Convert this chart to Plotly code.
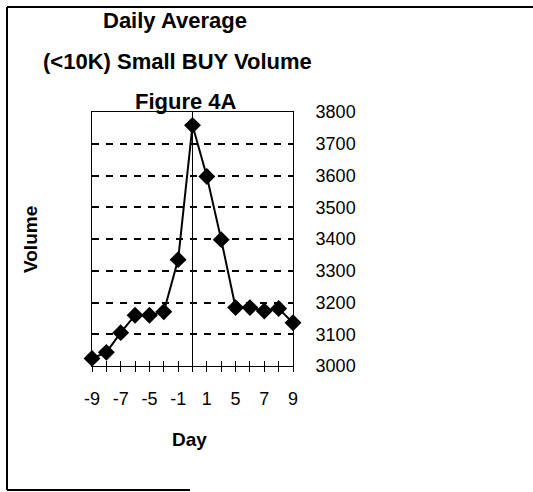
import plotly.graph_objects as go

# ---- data ----
days = ["-9", "-8", "-7", "-6", "-5", "-3", "-1", "0", "1", "3", "5", "6", "7", "8", "9"]
volume = [3024, 3043, 3105, 3160, 3160, 3171, 3335, 3758, 3597, 3398, 3184, 3184, 3173, 3181, 3136]
shown_labels = ["-9", "-7", "-5", "-1", "1", "5", "7", "9"]
y_ticks = [3000, 3100, 3200, 3300, 3400, 3500, 3600, 3700, 3800]

W, H = 533, 492
L, R, T, B = 92, 240, 112, 126
PW, PH = W - L - R, H - T - B


def px(x):
    return (x - L) / PW


def py(y):
    return (H - B - y) / PH


FONT = "Liberation Sans, Arial, sans-serif"

fig = go.Figure()
fig.add_trace(go.Scatter(
    x=days, y=volume, mode="lines+markers",
    line=dict(color="black", width=2),
    marker=dict(symbol="diamond", size=13, color="black"),
    cliponaxis=False, showlegend=False,
))

ticktext = [d if d in shown_labels else "" for d in days]

fig.update_layout(
    width=W, height=H,
    margin=dict(l=L, r=R, t=T, b=B, pad=0),
    paper_bgcolor="white", plot_bgcolor="white",
    font=dict(family=FONT, color="black", size=18),
    xaxis=dict(
        type="category", range=[0, len(days) - 1],
        tickmode="array", tickvals=days, ticktext=ticktext,
        ticks="outside", ticklen=5, tickcolor="black", tickwidth=1,
        ticklabelstandoff=11,
        showline=True, linecolor="black", linewidth=1, mirror=True,
        showgrid=False, zeroline=False,
        tickfont=dict(size=18),
    ),
    xaxis2=dict(
        overlaying="x", anchor="y", range=[0, len(days) - 1],
        tickmode="linear", tick0=0, dtick=1,
        ticks="inside", ticklen=5, tickcolor="black", tickwidth=1,
        showticklabels=False, showline=False, showgrid=False, zeroline=False,
    ),
    yaxis=dict(
        range=[y_ticks[0], y_ticks[-1]], side="right",
        tickmode="array", tickvals=y_ticks,
        ticks="", ticklabelstandoff=18,
        showline=True, linecolor="black", linewidth=1, mirror=True,
        showgrid=True, gridcolor="black", gridwidth=1.5, griddash="7px,7px",
        zeroline=False, tickfont=dict(size=18),
    ),
)

# invisible trace to activate xaxis2
fig.add_trace(go.Scatter(x=[0], y=[y_ticks[0]], xaxis="x2", mode="markers",
                         marker=dict(opacity=0), hoverinfo="skip", showlegend=False))

# vertical axis line at day 0
fig.add_shape(type="line", xref="x", yref="paper",
              x0=days.index("0"), x1=days.index("0"), y0=0, y1=1,
              line=dict(color="black", width=1))

# titles
titles = [("Daily Average", 175, 21), ("(<10K) Small BUY Volume", 177, 62), ("Figure 4A", 186, 101)]
for txt, cx, cy in titles:
    fig.add_annotation(text="<b>%s</b>" % txt, xref="paper", yref="paper",
                       x=px(cx), y=py(cy), showarrow=False,
                       xanchor="center", yanchor="middle",
                       font=dict(size=22, family=FONT, color="black"))

fig.add_annotation(text="<b>Volume</b>", xref="paper", yref="paper",
                   x=px(30), y=py(240), textangle=-90, showarrow=False,
                   xanchor="center", yanchor="middle",
                   font=dict(size=19, family=FONT, color="black"))
fig.add_annotation(text="<b>Day</b>", xref="paper", yref="paper",
                   x=px(189), y=py(439), showarrow=False,
                   xanchor="center", yanchor="middle",
                   font=dict(size=19, family=FONT, color="black"))

# outer frame (partial, as in the scan)
frame = dict(color="black", width=2)
fig.add_shape(type="line", xref="paper", yref="paper", x0=px(7), x1=px(533), y0=py(7), y1=py(7), line=frame)
fig.add_shape(type="line", xref="paper", yref="paper", x0=px(7), x1=px(7), y0=py(7), y1=py(490), line=frame)
fig.add_shape(type="line", xref="paper", yref="paper", x0=px(7), x1=px(190), y0=py(490), y1=py(490), line=frame)

fig.write_html("out.html", config={"displayModeBar": False},
               post_script="document.body.style.margin='0';document.body.style.padding='0';")
